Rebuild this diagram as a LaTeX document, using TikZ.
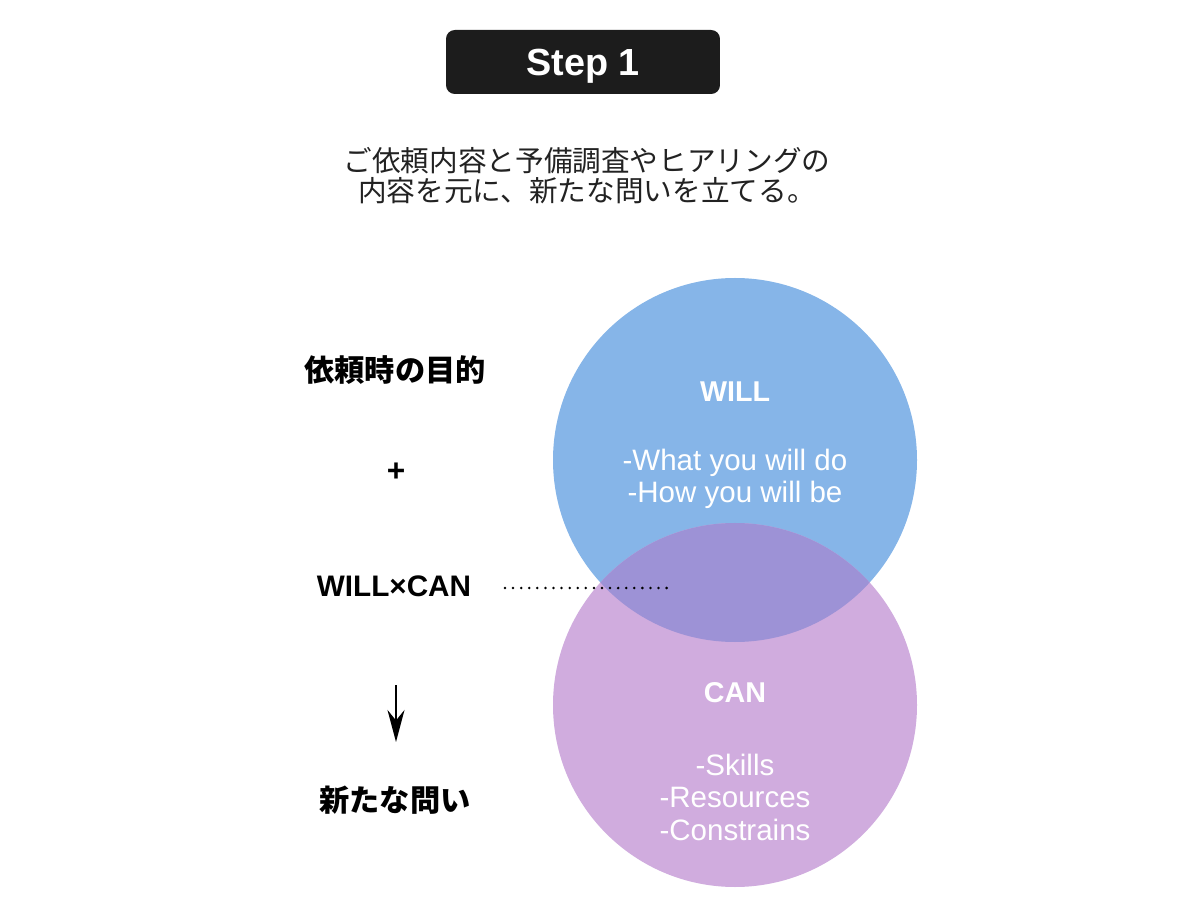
\documentclass[tikz,border=0pt]{standalone}
\usepackage{fontspec}
\setmainfont{Liberation Sans}
\newfontfamily\jp{Noto Sans CJK JP}
\usepackage{tikz}
\usetikzlibrary{arrows.meta, positioning}
\definecolor{willblue}{RGB}{134, 181, 232}
\definecolor{canpurple}{RGB}{208, 172, 222}
\definecolor{overlapviolet}{RGB}{157, 146, 214}
\definecolor{stepblack}{RGB}{28, 28, 28}
\definecolor{textdark}{RGB}{34, 34, 34}

\begin{document}
\begin{tikzpicture}[
    x=0.02cm, y=-0.02cm,
    stepbox/.style={fill=stepblack, rounded corners=5pt, minimum width=5.48cm, minimum height=1.28cm, text depth=0pt, text=white, font=\fontsize{21.5}{24}\selectfont\bfseries},
    intro/.style={align=center, text=textdark, font=\jp\fontsize{16.3}{17.2}\selectfont},
    sidelabel/.style={text=black, font=\jp\fontsize{17.2}{20}\selectfont\bfseries},
    circlehead/.style={text=white, font=\fontsize{16.3}{18}\selectfont\bfseries},
    circlebody/.style={align=center, text=white, font=\fontsize{16.8}{18.5}\selectfont},
    arrow/.style={-{Stealth[length=6.4mm, width=3.4mm]}, line width=0.9pt},
    dotline/.style={line width=1.6pt, line cap=round, dash pattern=on 0pt off 4.6pt}
]
\useasboundingbox (0,0) rectangle (1200,908);

% header
\node[stepbox] (step) at (583,62) {Step 1};
\node[intro] (lead) at (587,176) {ご依頼内容と予備調査やヒアリングの\\内容を元に、新たな問いを立てる。};

% circles
\fill[willblue] (735,460) circle (182);
\fill[canpurple] (735,705) circle (182);
\begin{scope}
  \clip (735,460) circle (182);
  \fill[overlapviolet] (735,705) circle (182);
\end{scope}

\node[circlehead] (will) at (735,392) {WILL};
\node[circlebody] (willtext) at (735,479) {-What you will do\\-How you will be};
\node[circlehead] (can) at (735,693) {CAN};
\node[circlebody] (cantext) at (735,797) {-Skills\\-Resources\\-Constrains};

% left column
\node[sidelabel] (purpose) at (395,370) {依頼時の目的};
\node[sidelabel, font=\fontsize{18}{20}\selectfont\bfseries] (plus) at (396,472) {+};
\node[sidelabel, font=\fontsize{16.9}{20}\selectfont\bfseries] (willcan) at (394,586) {WILL×CAN};
\node[sidelabel] (question) at (395,800) {新たな問い};

\coordinate (dotstart) at (505,588);
\coordinate (dotend) at (672,588);
\draw[dotline] (dotstart) -- (dotend);

\coordinate (arrtop) at (396,685);
\coordinate (arrbot) at (396,742);
\draw[arrow] (arrtop) -- (arrbot);

\end{tikzpicture}
\end{document}
